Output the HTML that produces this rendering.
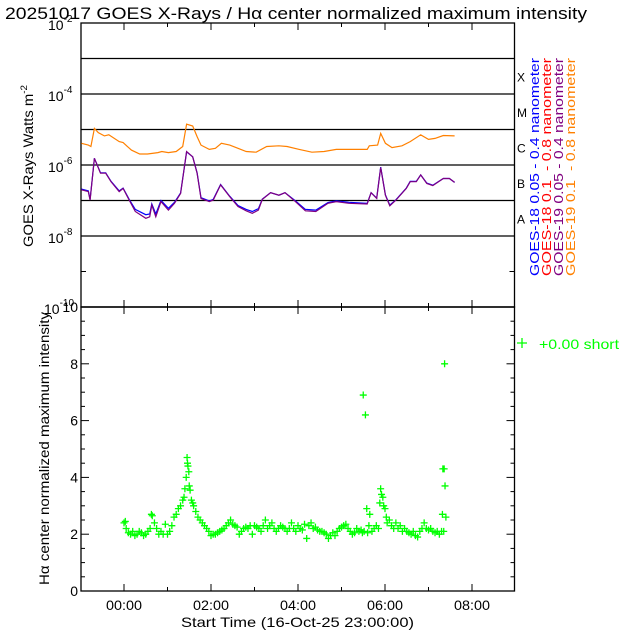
<!DOCTYPE html>
<html><head><meta charset="utf-8"><style>
body{margin:0;background:#fff}
svg{display:block;font-family:"Liberation Sans",sans-serif}
</style></head><body>
<svg id="c" width="640" height="640" viewBox="0 0 640 640">
<rect width="640" height="640" fill="#fff"/>
<text x="5" y="19" font-size="17" textLength="582" lengthAdjust="spacingAndGlyphs">20251017 GOES X-Rays / Hα center normalized maximum intensity</text>
<g id="gtop"></g>
<g id="gbot"></g>
</svg>
<script>
// ---- data ----
const longHours=[-0.98,-0.82,-0.76,-0.68,-0.59,-0.45,-0.35,-0.11,-0.02,0.17,0.36,0.54,0.78,0.87,1.02,1.20,1.35,1.44,1.58,1.68,1.77,1.96,2.10,2.24,2.43,2.62,2.81,3.04,3.28,3.56,3.75,4.03,4.32,4.60,4.88,5.26,5.59,5.64,5.83,5.90,6.01,6.16,6.39,6.58,6.82,7.00,7.15,7.34,7.60];
const goes19Long=[-5.39,-5.44,-5.48,-4.97,-5.09,-5.18,-5.15,-5.34,-5.37,-5.58,-5.69,-5.69,-5.65,-5.62,-5.65,-5.62,-5.48,-4.85,-4.90,-5.20,-5.44,-5.56,-5.53,-5.39,-5.44,-5.53,-5.62,-5.64,-5.48,-5.46,-5.48,-5.56,-5.64,-5.62,-5.56,-5.56,-5.56,-5.46,-5.44,-5.11,-5.39,-5.51,-5.46,-5.34,-5.15,-5.28,-5.25,-5.17,-5.18];
const shortHours=[-0.98,-0.82,-0.78,-0.68,-0.54,-0.42,-0.30,-0.11,-0.02,0.12,0.26,0.50,0.59,0.64,0.73,0.85,1.02,1.16,1.30,1.44,1.58,1.68,1.77,1.96,2.05,2.22,2.43,2.62,2.81,2.95,3.09,3.18,3.37,3.56,3.70,3.94,4.17,4.41,4.69,4.88,5.17,5.59,5.68,5.81,5.90,6.01,6.11,6.25,6.49,6.58,6.72,6.82,6.96,7.10,7.34,7.48,7.60];
const goes18Short=[-6.68,-6.73,-6.97,-5.81,-6.22,-6.22,-6.46,-6.73,-6.65,-6.97,-7.25,-7.40,-7.38,-7.10,-7.38,-7.00,-7.22,-7.05,-6.79,-5.63,-5.77,-6.22,-6.92,-7.01,-6.97,-6.55,-6.88,-7.14,-7.25,-7.31,-7.23,-6.96,-6.78,-6.85,-6.78,-7.01,-7.25,-7.27,-7.06,-7.01,-7.05,-7.08,-6.78,-6.93,-6.06,-6.84,-7.13,-6.98,-6.65,-6.46,-6.46,-6.28,-6.51,-6.57,-6.38,-6.38,-6.49];
const goes19Short=[-6.70,-6.75,-6.99,-5.81,-6.23,-6.23,-6.47,-6.75,-6.66,-6.99,-7.31,-7.50,-7.46,-7.13,-7.46,-7.03,-7.27,-7.08,-6.80,-5.62,-5.77,-6.23,-6.94,-7.03,-6.99,-6.56,-6.89,-7.17,-7.29,-7.36,-7.27,-6.97,-6.78,-6.85,-6.78,-7.03,-7.29,-7.31,-7.08,-7.03,-7.08,-7.10,-6.78,-6.94,-6.07,-6.85,-7.15,-6.99,-6.66,-6.47,-6.47,-6.28,-6.52,-6.58,-6.38,-6.38,-6.49];
const haHours=[0.0,0.03,0.05,0.1,0.15,0.2,0.25,0.3,0.35,0.4,0.45,0.5,0.55,0.6,0.63,0.65,0.7,0.75,0.8,0.85,0.9,0.95,1.0,1.05,1.1,1.15,1.2,1.25,1.3,1.35,1.38,1.4,1.43,1.45,1.46,1.47,1.49,1.5,1.52,1.55,1.58,1.6,1.65,1.7,1.75,1.8,1.85,1.9,1.95,2.0,2.05,2.1,2.15,2.2,2.25,2.3,2.35,2.4,2.45,2.5,2.55,2.6,2.65,2.7,2.75,2.8,2.85,2.9,2.95,3.0,3.05,3.1,3.15,3.2,3.25,3.3,3.35,3.4,3.45,3.5,3.55,3.6,3.65,3.7,3.75,3.8,3.85,3.9,3.95,4.0,4.05,4.1,4.15,4.2,4.25,4.3,4.35,4.4,4.45,4.5,4.55,4.6,4.65,4.7,4.75,4.8,4.85,4.9,4.95,5.0,5.05,5.1,5.15,5.2,5.25,5.3,5.35,5.4,5.45,5.48,5.5,5.52,5.55,5.58,5.6,5.63,5.65,5.7,5.75,5.8,5.85,5.88,5.9,5.92,5.95,5.97,6.0,6.03,6.05,6.1,6.15,6.2,6.25,6.3,6.35,6.4,6.45,6.5,6.55,6.6,6.65,6.7,6.75,6.8,6.85,6.9,6.95,7.0,7.05,7.1,7.15,7.2,7.25,7.3,7.32,7.33,7.35,7.36,7.37,7.38,7.4];
const haValues=[2.4,2.45,2.2,2.05,2.0,2.1,1.95,2.0,2.1,2.05,1.95,2.0,2.1,2.2,2.7,2.65,2.4,2.2,2.0,2.1,2.0,2.35,2.0,2.1,2.3,2.6,2.7,2.9,3.0,3.2,3.3,3.6,4.0,4.7,4.5,4.4,4.2,3.7,3.55,3.2,3.1,3.0,2.8,2.6,2.5,2.4,2.3,2.2,2.1,1.95,2.0,2.0,2.05,2.1,2.15,2.2,2.3,2.4,2.5,2.35,2.3,2.25,2.0,2.1,2.2,2.25,2.2,2.3,2.0,2.3,2.25,2.2,2.1,2.3,2.5,2.2,2.3,2.4,2.2,2.1,2.2,2.3,2.25,2.2,2.1,2.2,2.4,2.2,2.1,2.3,2.2,2.15,2.35,1.85,2.3,2.4,2.2,2.25,2.15,2.1,2.1,2.05,2.0,1.85,1.95,2.05,1.95,2.1,2.2,2.25,2.3,2.35,2.2,2.1,2.0,2.05,2.2,2.1,2.15,2.05,6.9,2.1,6.2,2.9,2.05,2.3,2.7,2.1,2.2,2.3,2.2,3.1,3.6,3.4,3.3,3.0,2.9,2.6,2.4,2.5,2.3,2.2,2.4,2.2,2.3,2.1,2.2,2.1,2.05,2.0,2.1,1.95,1.9,2.1,2.2,2.4,2.2,2.15,2.2,2.1,2.05,2.1,2.0,2.1,2.7,4.3,2.1,4.3,8.0,3.7,2.6];
const xTickLabels=["00:00","02:00","04:00","06:00","08:00"];
const xTickHours=[0,2,4,6,8];
const yTopExps=[-2,-4,-6,-8,-10];
const yBotTicks=[0,2,4,6,8,10];
const classLabels=["X","M","C","B","A"];
const classLogs=[-3.5,-4.5,-5.5,-6.5,-7.5];

const NS="http://www.w3.org/2000/svg";
const L=81,R=514.5;
const xh=h=>124+h*43.5;
const yTop=lg=>23+(-2-lg)*35.5;
const yBot=v=>591-v*28.4;
function mk(p,tag,at){const e=document.createElementNS(NS,tag);for(const k in at)e.setAttribute(k,at[k]);p.appendChild(e);return e;}
const gTop=document.getElementById('gtop'),gBot=document.getElementById('gbot');

let fr=mk(gTop,'rect',{x:L,y:23,width:R-L,height:307-23,fill:'none',stroke:'#000','stroke-width':1.3});


for(let e=-3;e>=-10;e--){if(e===-9)continue;
 const ln=mk(gTop,'line',{x1:L,x2:R,y1:yTop(e),y2:yTop(e),stroke:'#000','stroke-width':1.3});
 
 }
for(let e=-2;e>=-10;e--){mk(gTop,'line',{x1:L,x2:L+5,y1:yTop(e),y2:yTop(e),stroke:'#000'});mk(gTop,'line',{x1:R-5,x2:R,y1:yTop(e),y2:yTop(e),stroke:'#000'});}
for(let h=0;h<=8;h++){const len=h%2?4:7;const x=xh(h);
 mk(gTop,'line',{x1:x,x2:x,y1:23,y2:23+len,stroke:'#000'});mk(gTop,'line',{x1:x,x2:x,y1:307,y2:307-len,stroke:'#000'});
 mk(gBot,'line',{x1:x,x2:x,y1:307,y2:307+len,stroke:'#000'});mk(gBot,'line',{x1:x,x2:x,y1:591,y2:591-len,stroke:'#000'});}
yTopExps.forEach(e=>{
 const t=mk(gTop,'text',{x:e===-10?44:48,y:yTop(e)+7,'font-size':14,fill:'#000'});
 
 
 t.textContent='10';
 const s=mk(t,'tspan',{dy:-8,'font-size':10});s.textContent=String(e);
});
classLabels.forEach((c,i)=>{
 const t=mk(gTop,'text',{x:517,y:yTop(classLogs[i])+5,'font-size':12});
 
 
 t.textContent=c;});
let yt=mk(gTop,'text',{transform:'translate(33,247) rotate(-90)','font-size':13.5,textLength:162,lengthAdjust:'spacingAndGlyphs'});


yt.textContent='GOES X-Rays Watts m';
let ys=mk(yt,'tspan',{dy:-6,'font-size':9});ys.textContent='-2';

function line(hs,vs,col,name){
 const d=hs.map((h,i)=>(i?'L':'M')+xh(h).toFixed(1)+' '+yTop(vs[i]).toFixed(1)).join(' ');
 const p=mk(gTop,'path',{d:d,fill:'none',stroke:col,'stroke-width':1.2});
 
 }
line(longHours,goes19Long,'#ff8000','goes19-long-series');
line(shortHours,goes18Short,'#0000ff','goes18-short-series');
line(shortHours,goes19Short,'#800080','goes19-short-series');

const leg=[["GOES-18 0.05 - 0.4 nanometer","#0000ff",539],["GOES-18 0.1  - 0.8 nanometer","#ff0000",551],["GOES-19 0.05 - 0.4 nanometer","#800080",563],["GOES-19 0.1  - 0.8 nanometer","#ff8000",575]];
leg.forEach(l=>{const t=mk(gTop,'text',{transform:`translate(${l[2]},276) rotate(-90)`,'font-size':13,fill:l[1],textLength:218,lengthAdjust:'spacingAndGlyphs'});
 t.style.whiteSpace='pre';
 
 
 t.textContent=l[0];});

let fb=mk(gBot,'rect',{x:L,y:307,width:R-L,height:591-307,fill:'none',stroke:'#000','stroke-width':1.3});


for(let v=0;v<=10;v+=0.5){const len=v%2===0?8:4;mk(gBot,'line',{x1:L,x2:L+len,y1:yBot(v),y2:yBot(v),stroke:'#000'});mk(gBot,'line',{x1:R-len,x2:R,y1:yBot(v),y2:yBot(v),stroke:'#000'});}
yBotTicks.forEach(v=>{const t=mk(gBot,'text',{x:78,y:yBot(v)+5,'text-anchor':'end','font-size':14});
 
 
 t.textContent=v;});
xTickHours.forEach((h,i)=>{const t=mk(gBot,'text',{x:xh(h)-18,y:610,'font-size':14,textLength:36,lengthAdjust:'spacingAndGlyphs'});
 
 
 t.textContent=xTickLabels[i];});
let xt=mk(gBot,'text',{x:181,y:627,'font-size':14,textLength:233,lengthAdjust:'spacingAndGlyphs'});


xt.textContent='Start Time (16-Oct-25 23:00:00)';
let by=mk(gBot,'text',{transform:'translate(49,585) rotate(-90)','font-size':13.5,textLength:273,lengthAdjust:'spacingAndGlyphs'});


by.textContent='Hα center normalized maximum intensity';
const pts=mk(gBot,'g',{stroke:'#00ff00','stroke-width':1.3});


haHours.forEach((h,i)=>{const x=xh(h),y=yBot(haValues[i]);
 const p=mk(pts,'path',{d:`M${x-3.5} ${y}H${x+3.5}M${x} ${y-3.5}V${y+3.5}`});
 
 });
const lg=mk(gBot,'g',{});


mk(lg,'path',{d:'M517 343H527M522 338V348',stroke:'#00ff00','stroke-width':1.3});
const lt=mk(lg,'text',{x:539,y:349,'font-size':14,fill:'#00ff00',textLength:80,lengthAdjust:'spacingAndGlyphs'});lt.textContent='+0.00 short';
</script>
</body></html>
